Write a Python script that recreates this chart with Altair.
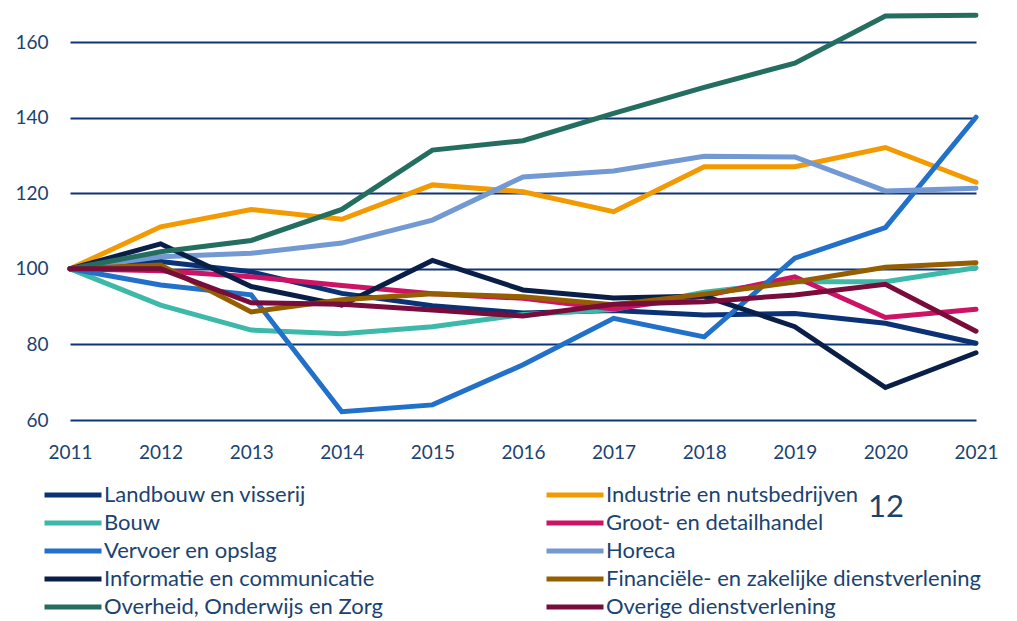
import altair as alt
import pandas as pd

years = list(range(2011, 2022))

series_names = [
    "Landbouw en visserij",
    "Industrie en nutsbedrijven",
    "Bouw",
    "Groot- en detailhandel",
    "Vervoer en opslag",
    "Horeca",
    "Informatie en communicatie",
    "Financiële- en zakelijke dienstverlening",
    "Overheid, Onderwijs en Zorg",
    "Overige dienstverlening",
]

landbouw = [100, 101.9, 99.2, 93.5, 90.2, 88.3, 89.0, 87.8, 88.2, 85.6, 80.3]
industrie = [100, 111.1, 115.7, 113.1, 122.2, 120.4, 115.1, 127.0, 127.0, 132.1, 122.9]
bouw = [100, 90.4, 83.8, 82.8, 84.7, 87.9, 89.2, 93.8, 96.6, 96.6, 100.3]
groot = [100, 99.5, 97.9, 95.6, 93.4, 92.2, 89.4, 92.8, 97.9, 87.1, 89.3]
vervoer = [100, 95.7, 93.1, 62.2, 64.0, 74.6, 86.9, 82.0, 102.8, 110.9, 140.1]
horeca = [100, 103.2, 104.1, 106.8, 112.9, 124.3, 125.9, 129.8, 129.6, 120.6, 121.3]
informatie = [100, 106.6, 95.3, 90.4, 102.2, 94.4, 92.3, 92.8, 84.7, 68.6, 77.8]
financiele = [100, 101.0, 88.6, 91.8, 93.4, 92.6, 90.5, 93.3, 96.5, 100.4, 101.6]
overheid = [100, 104.5, 107.5, 115.7, 131.4, 133.9, 141.1, 148.0, 154.4, 166.9, 167.1]
overige = [100, 100.0, 91.0, 90.6, 89.1, 87.5, 90.6, 91.3, 93.1, 95.9, 83.5]

series_values = [landbouw, industrie, bouw, groot, vervoer, horeca,
                 informatie, financiele, overheid, overige]

colors = ["#0B3274", "#F39A00", "#3DB9A9", "#CC1366", "#2170C9",
          "#7399D2", "#0A1F48", "#955E00", "#246E60", "#780C3B"]

# legend is filled column by column: left column first, then right column
legend_order = [0, 2, 4, 6, 8, 1, 3, 5, 7, 9]

y_ticks = [60, 80, 100, 120, 140, 160]
page_note = ["12"]

rows = []
for i, (name, vals) in enumerate(zip(series_names, series_values)):
    for yr, v in zip(years, vals):
        rows.append({"Jaar": yr, "Waarde": v, "Sector": name, "ord": i})
df = pd.DataFrame(rows)

TEXT = "#1B4370"
FONT = "Lato"

lines = alt.Chart(df).mark_line(strokeWidth=5, strokeCap="round", clip=False).encode(
    x=alt.X("Jaar:Q",
            scale=alt.Scale(domain=[2011, 2021], nice=False, zero=False),
            axis=alt.Axis(values=years, format="d", title=None, grid=False,
                          domain=False, ticks=False, labelFontSize=19,
                          labelFont=FONT, labelColor=TEXT, labelPadding=23,
                          labelFlush=False)),
    y=alt.Y("Waarde:Q",
            scale=alt.Scale(domain=[60, 169], nice=False, zero=False),
            axis=alt.Axis(values=y_ticks, title=None, grid=True,
                          gridColor="#0E3577", gridWidth=2, gridOpacity=1,
                          domain=False, ticks=False, labelFontSize=19,
                          labelFont=FONT, labelColor=TEXT, labelPadding=22)),
    color=alt.Color("Sector:N",
                    scale=alt.Scale(domain=[series_names[k] for k in legend_order],
                                    range=[colors[k] for k in legend_order]),
                    legend=alt.Legend(orient="none", legendX=-28, legendY=473,
                                      columns=2, title=None,
                                      symbolType="stroke", symbolSize=3249,
                                      symbolStrokeWidth=5, clipHeight=28,
                                      labelFontSize=22, labelFont=FONT,
                                      labelColor=TEXT, labelOffset=0,
                                      labelLimit=600, rowPadding=0,
                                      columnPadding=161)),
    order=alt.Order("ord:Q"),
    detail="Sector:N",
)

note = alt.Chart(pd.DataFrame({"t": page_note})).mark_text(
    fontSize=31, font=FONT, color=TEXT, align="center", baseline="middle"
).encode(x=alt.value(816), y=alt.value(500), text="t:N")

chart = alt.layer(lines, note).properties(
    width=906, height=412,
    autosize=alt.AutoSizeParams(type="none"),
    padding={"left": 62, "top": 0, "right": 30, "bottom": 210},
).configure_view(stroke=None)

chart.save("out.html", embed_options={"renderer": "svg", "actions": False})
